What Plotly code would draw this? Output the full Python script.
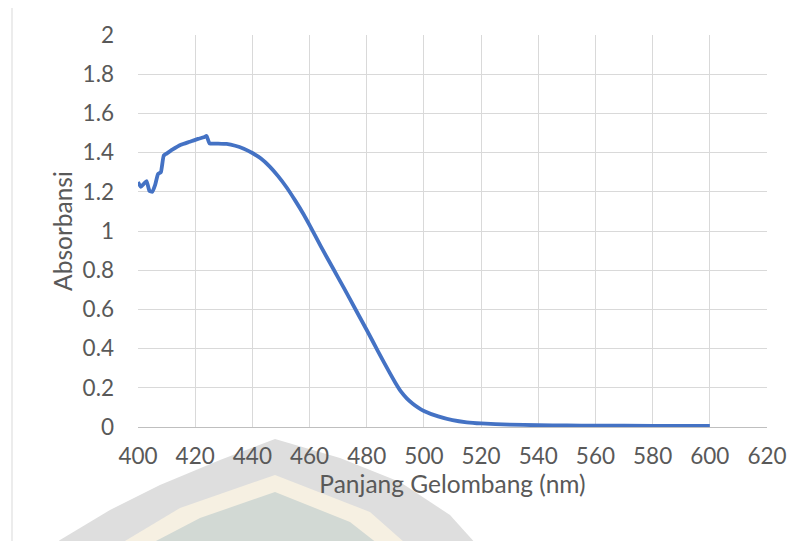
import plotly.graph_objects as go

# ---- data ----
wavelength_nm = [400, 401, 402, 403, 404, 405, 406, 407, 408, 409, 410, 412, 415, 418, 421,
                 423, 424, 425, 428, 431, 434, 437, 440, 443, 446, 449, 452, 455, 458, 460,
                 464, 468, 472, 476, 480, 484, 488, 490, 492, 494, 496, 498, 500, 505, 510,
                 515, 520, 530, 540, 550, 560, 580, 600]
absorbansi = [1.25, 1.225, 1.24, 1.255, 1.205, 1.20, 1.235, 1.29, 1.30, 1.385, 1.395, 1.415,
              1.44, 1.455, 1.47, 1.478, 1.485, 1.447, 1.446, 1.444, 1.435, 1.42, 1.398, 1.37,
              1.33, 1.28, 1.222, 1.155, 1.083, 1.03, 0.92, 0.815, 0.71, 0.602, 0.495, 0.385,
              0.277, 0.226, 0.18, 0.146, 0.12, 0.099, 0.082, 0.054, 0.035, 0.024, 0.018,
              0.012, 0.009, 0.008, 0.007, 0.006, 0.006]
x_ticks = [400, 420, 440, 460, 480, 500, 520, 540, 560, 580, 600, 620]
y_ticks = [0, 0.2, 0.4, 0.6, 0.8, 1, 1.2, 1.4, 1.6, 1.8, 2]
y_tick_labels = ["0", "0.2", "0.4", "0.6", "0.8", "1", "1.2", "1.4", "1.6", "1.8", "2"]
x_title = "Panjang Gelombang (nm)"
y_title = "Absorbansi"

OFF = 8  # page body margin of the browser
W, H = 806, 541
PX0, PX1, PY0, PY1 = 138, 767, 35, 427   # plot area in screen pixels
L, T = PX0 - OFF, PY0 - OFF
PW, PH = PX1 - PX0, PY1 - PY0
R, B = W - L - PW, H - T - PH

def P(px, py):
    return (px - PX0) / PW, (PY1 - py) / PH

def path(pts):
    s = []
    for i, (px, py) in enumerate(pts):
        x, y = P(px, py)
        s.append(("M" if i == 0 else "L") + f"{x:.4f},{y:.4f}")
    return " ".join(s) + " Z"

FONT = "Lato, 'Open Sans', sans-serif"
TXT = "#595959"
GRID = "#d9d9d9"
TICK_SIZE = 22.5
TITLE_SIZE = 24.5

fig = go.Figure()
fig.add_trace(go.Scatter(
    x=wavelength_nm, y=absorbansi, mode="lines",
    line=dict(color="#4472C4", width=3.8, shape="spline", smoothing=0.4),
    showlegend=False, hoverinfo="x+y"))

shapes = [
    # faint watermark logo at bottom
    dict(type="path", xref="paper", yref="paper", layer="below", line_width=0,
         fillcolor="#dedede",
         path=path([(30, 565), (60, 540), (110, 510), (160, 485), (220, 460), (275, 439),
                    (340, 458), (400, 482), (450, 515), (495, 565)])),
    dict(type="path", xref="paper", yref="paper", layer="below", line_width=0,
         fillcolor="#f6f0e2",
         path=path([(85, 565), (180, 508), (275, 475), (370, 512), (430, 565)])),
    dict(type="path", xref="paper", yref="paper", layer="below", line_width=0,
         fillcolor="#d2d9d4",
         path=path([(110, 565), (200, 518), (275, 492), (350, 522), (405, 565)])),
    # outer chart frame
    dict(type="rect", xref="paper", yref="paper", layer="below",
         x0=P(12, 0)[0], y0=P(0, 5)[1], x1=P(820, 0)[0], y1=P(0, 570)[1],
         line=dict(color=GRID, width=1), fillcolor="rgba(0,0,0,0)"),
]

fig.update_layout(
    width=W, height=H,
    margin=dict(l=L, r=R, t=T, b=B, autoexpand=False),
    paper_bgcolor="white", plot_bgcolor="rgba(0,0,0,0)",
    font=dict(family=FONT, size=TICK_SIZE, color=TXT),
    shapes=shapes,
    xaxis=dict(range=[400, 620], tickvals=x_ticks, ticktext=[str(v) for v in x_ticks],
               showgrid=True, gridcolor=GRID, gridwidth=1, zeroline=False,
               showline=True, linecolor="#bfbfbf", linewidth=1, mirror=False,
               ticks="", ticklabelstandoff=9, automargin=False,
               tickfont=dict(family=FONT, size=TICK_SIZE, color=TXT),
               title=dict(text=x_title, font=dict(family=FONT, size=TITLE_SIZE, color=TXT),
                          standoff=3)),
    yaxis=dict(range=[0, 2], tickvals=y_ticks, ticktext=y_tick_labels,
               showgrid=True, gridcolor=GRID, gridwidth=1, zeroline=False,
               showline=False, ticks="", ticklabelstandoff=23, automargin=False,
               tickfont=dict(family=FONT, size=TICK_SIZE, color=TXT),
               title=dict(text=y_title, font=dict(family=FONT, size=TITLE_SIZE, color=TXT),
                          standoff=3)),
)

fig.write_html("out.html")
